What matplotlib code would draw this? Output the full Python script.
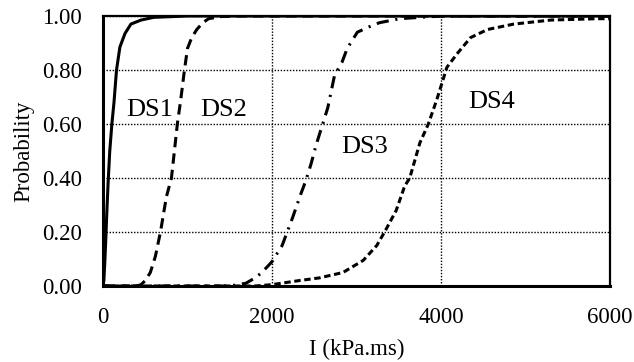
import matplotlib
matplotlib.use("Agg")
import matplotlib.pyplot as plt

# Fragility curves: impulse (kPa.ms) vs. probability of exceedance
ds1_x = [0, 5, 10, 20, 30, 45, 60, 80, 105, 130, 160, 200, 260, 330, 450, 600, 1000, 6000]
ds1_p = [0, 0.01, 0.02, 0.08, 0.15, 0.27, 0.38, 0.50, 0.60, 0.68, 0.80, 0.885, 0.935, 0.97, 0.985, 0.995, 1.0, 1.0]

ds2_x = [0, 400, 450, 500, 560, 620, 680, 750, 810, 880, 920, 964, 1000, 1050, 1110, 1180, 1250, 1400, 1600, 6000]
ds2_p = [0, 0, 0.005, 0.02, 0.05, 0.11, 0.2, 0.33, 0.4, 0.6, 0.69, 0.8, 0.88, 0.92, 0.95, 0.975, 0.99, 0.998, 1.0, 1.0]

ds3_x = [0, 1500, 1690, 1800, 1880, 2000, 2120, 2240, 2340, 2400, 2460, 2520, 2600, 2660, 2700, 2740, 2830, 2890, 3010, 3150, 3270, 3510, 4000, 6000]
ds3_p = [0, 0, 0.01, 0.03, 0.05, 0.09, 0.15, 0.25, 0.34, 0.39, 0.45, 0.52, 0.60, 0.66, 0.72, 0.78, 0.83, 0.88, 0.94, 0.96, 0.975, 0.99, 1.0, 1.0]

ds4_x = [0, 1800, 2000, 2320, 2560, 2840, 3080, 3240, 3350, 3470, 3570, 3630, 3750, 3850, 3950, 4010, 4070, 4190, 4350, 4550, 4860, 5300, 5850, 6000]
ds4_p = [0, 0, 0.005, 0.02, 0.03, 0.05, 0.095, 0.15, 0.21, 0.28, 0.37, 0.40, 0.53, 0.60, 0.69, 0.75, 0.81, 0.86, 0.92, 0.95, 0.97, 0.985, 0.99, 0.99]

labels = ["DS1", "DS2", "DS3", "DS4"]
label_pos = [(548, 0.652), (1429, 0.652), (3095, 0.515), (4595, 0.68)]

x_ticks = [0, 2000, 4000, 6000]
y_ticks = [0.0, 0.2, 0.4, 0.6, 0.8, 1.0]

plt.rcParams["font.family"] = ["Liberation Serif", "DejaVu Serif"]

fig = plt.figure(figsize=(6.34, 3.62), dpi=100)
ax = fig.add_axes([103 / 634, 1 - 286 / 362, (610 - 103) / 634, (286 - 16) / 362])

lw = 2.2
ax.plot(ds1_x, ds1_p, color="black", lw=lw, solid_capstyle="round")
ax.plot(ds2_x, ds2_p, color="black", lw=lw, dashes=(3.4, 2.0))
ax.plot(ds3_x, ds3_p, color="black", lw=lw, dashes=(4, 2.2, 0.7, 2.2))
ax.plot(ds4_x, ds4_p, color="black", lw=lw, dashes=(2.1, 1.2))

for name, (lx, ly) in zip(labels, label_pos):
    ax.text(lx, ly, name, fontsize=19, ha="center", va="center")

ax.set_xlim(0, 6000)
ax.set_ylim(0, 1.0)
ax.set_xticks(x_ticks)
ax.set_yticks(y_ticks)
ax.set_yticklabels([f"{v:.2f}" for v in y_ticks])
ax.tick_params(length=0, labelsize=16.5, pad=15)

ax.grid(True, color="black", linestyle=(0, (1, 1.2)), linewidth=1.0)
ax.set_axisbelow(True)

for side in ["left", "bottom"]:
    ax.spines[side].set_linewidth(2.2)
for side in ["top", "right"]:
    ax.spines[side].set_linewidth(1.6)

ax.set_xlabel("I (kPa.ms)", fontsize=16.5, labelpad=8)
ax.set_ylabel("Probability", fontsize=16.5, labelpad=6)

fig.savefig("out.png", dpi=100)
